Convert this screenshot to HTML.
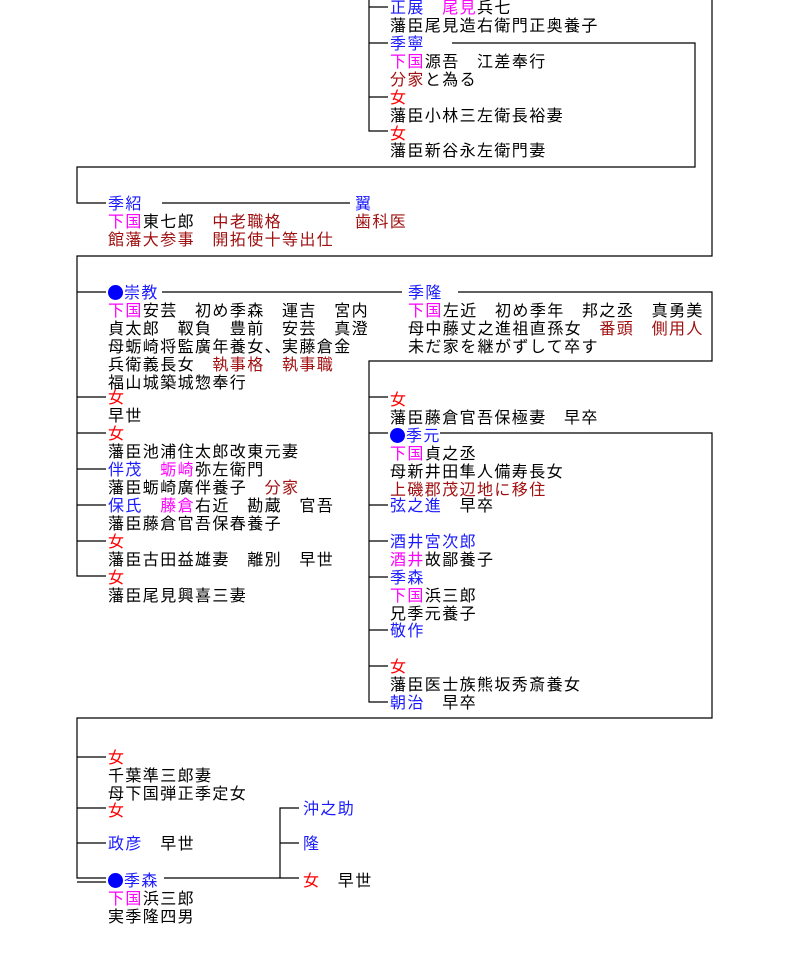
<!DOCTYPE html>
<html><head><meta charset="utf-8"><style>
body{margin:0;background:#fff;width:794px;height:970px;position:relative;overflow:hidden;font-family:"Liberation Sans","Noto Sans CJK JP",sans-serif;}
.t{position:absolute;white-space:nowrap;line-height:18px;font-size:16px;letter-spacing:1.4px;color:#000;margin-top:2px;}
.b{color:#1a1aff}.m{color:#ff00ff}.r{color:#ff0000}.d{color:#a01010}
.dot{display:inline-block;width:15px;height:15px;border-radius:50%;background:#0000ff;vertical-align:-2px;margin-right:1px}
svg{position:absolute;left:0;top:0}
</style></head><body>
<svg width="794" height="970"><g stroke="#000" stroke-width="1.2" fill="none">
<path d="M369 0V131H388M369 7H388M369 43H388M369 97H388"/>
<path d="M452 43H695V167H77V203H106M162 203H350"/>
<path d="M712 0V256H77V576H106M77 292H106M77 397H106M77 433H106M77 469H106M77 505H106M77 541H106"/>
<path d="M162 292H402M458 292H712V361H369V702H388M369 397H388M369 433H388M369 505H388M369 541H388M369 577H388M369 630H388M369 666H388"/>
<path d="M440 433H712V718H77V878H106M77 757H106M77 808H106M77 843H106M77 882H106"/>
<path d="M164 878H299M280 878V808H299M280 843H299"/>
</g></svg>

<div class="t" style="left:390px;top:-2px"><span class="b">正展</span>　<span class="m">尾見</span>兵七</div>
<div class="t" style="left:390px;top:16px">藩臣尾見造右衛門正奥養子</div>
<div class="t b" style="left:390px;top:34px">季寧</div>
<div class="t" style="left:390px;top:52px"><span class="m">下国</span>源吾　江差奉行</div>
<div class="t" style="left:390px;top:70px"><span class="d">分家</span>と為る</div>
<div class="t r" style="left:390px;top:88px">女</div>
<div class="t" style="left:390px;top:106px">藩臣小林三左衛長裕妻</div>
<div class="t r" style="left:390px;top:124px">女</div>
<div class="t" style="left:390px;top:141px">藩臣新谷永左衛門妻</div>

<div class="t b" style="left:108px;top:194px">季紹</div>
<div class="t" style="left:108px;top:212px"><span class="m">下国</span>東七郎　<span class="d">中老職格</span></div>
<div class="t d" style="left:108px;top:230px">館藩大参事　開拓使十等出仕</div>
<div class="t b" style="left:355px;top:194px">翼</div>
<div class="t d" style="left:355px;top:212px">歯科医</div>

<div class="t b" style="left:108px;top:283px"><span class="dot"></span>崇教</div>
<div class="t" style="left:108px;top:301px"><span class="m">下国</span>安芸　初め季森　運吉　宮内</div>
<div class="t" style="left:108px;top:319px">貞太郎　靫負　豊前　安芸　真澄</div>
<div class="t" style="left:108px;top:337px">母蛎崎将監廣年養女、実藤倉金</div>
<div class="t" style="left:108px;top:355px">兵衛義長女　<span class="d">執事格　執事職</span></div>
<div class="t" style="left:108px;top:373px">福山城築城惣奉行</div>

<div class="t b" style="left:408px;top:283px">季隆</div>
<div class="t" style="left:408px;top:301px"><span class="m">下国</span>左近　初め季年　邦之丞　真勇美</div>
<div class="t" style="left:408px;top:319px">母中藤丈之進祖直孫女　<span class="d">番頭　側用人</span></div>
<div class="t" style="left:408px;top:337px">未だ家を継がずして卒す</div>

<div class="t r" style="left:108px;top:388px">女</div>
<div class="t" style="left:108px;top:406px">早世</div>
<div class="t r" style="left:108px;top:424px">女</div>
<div class="t" style="left:108px;top:442px">藩臣池浦住太郎改東元妻</div>
<div class="t" style="left:108px;top:460px"><span class="b">伴茂</span>　<span class="m">蛎崎</span>弥左衛門</div>
<div class="t" style="left:108px;top:478px">藩臣蛎崎廣伴養子　<span class="d">分家</span></div>
<div class="t" style="left:108px;top:496px"><span class="b">保氏</span>　<span class="m">藤倉</span>右近　勘蔵　官吾</div>
<div class="t" style="left:108px;top:514px">藩臣藤倉官吾保春養子</div>
<div class="t r" style="left:108px;top:532px">女</div>
<div class="t" style="left:108px;top:550px">藩臣古田益雄妻　離別　早世</div>
<div class="t r" style="left:108px;top:568px">女</div>
<div class="t" style="left:108px;top:586px">藩臣尾見興喜三妻</div>

<div class="t r" style="left:390px;top:390px">女</div>
<div class="t" style="left:390px;top:408px">藩臣藤倉官吾保極妻　早卒</div>
<div class="t b" style="left:390px;top:426px"><span class="dot"></span>季元</div>
<div class="t" style="left:390px;top:444px"><span class="m">下国</span>貞之丞</div>
<div class="t" style="left:390px;top:462px">母新井田隼人備寿長女</div>
<div class="t d" style="left:390px;top:480px">上磯郡茂辺地に移住</div>
<div class="t" style="left:390px;top:496px"><span class="b">弦之進</span>　早卒</div>
<div class="t b" style="left:390px;top:532px">酒井宮次郎</div>
<div class="t" style="left:390px;top:550px"><span class="m">酒井</span>故鄙養子</div>
<div class="t b" style="left:390px;top:568px">季森</div>
<div class="t" style="left:390px;top:586px"><span class="m">下国</span>浜三郎</div>
<div class="t" style="left:390px;top:604px">兄季元養子</div>
<div class="t b" style="left:390px;top:621px">敬作</div>
<div class="t r" style="left:390px;top:657px">女</div>
<div class="t" style="left:390px;top:675px">藩臣医士族熊坂秀斎養女</div>
<div class="t" style="left:390px;top:693px"><span class="b">朝治</span>　早卒</div>

<div class="t r" style="left:108px;top:748px">女</div>
<div class="t" style="left:108px;top:766px">千葉準三郎妻</div>
<div class="t" style="left:108px;top:784px">母下国弾正季定女</div>
<div class="t r" style="left:108px;top:801px">女</div>
<div class="t" style="left:108px;top:834px"><span class="b">政彦</span>　早世</div>
<div class="t b" style="left:108px;top:871px"><span class="dot"></span>季森</div>
<div class="t" style="left:108px;top:889px"><span class="m">下国</span>浜三郎</div>
<div class="t" style="left:108px;top:907px">実季隆四男</div>

<div class="t b" style="left:303px;top:799px">沖之助</div>
<div class="t b" style="left:303px;top:834px">隆</div>
<div class="t" style="left:303px;top:871px"><span class="r">女</span>　早世</div>
</body></html>
